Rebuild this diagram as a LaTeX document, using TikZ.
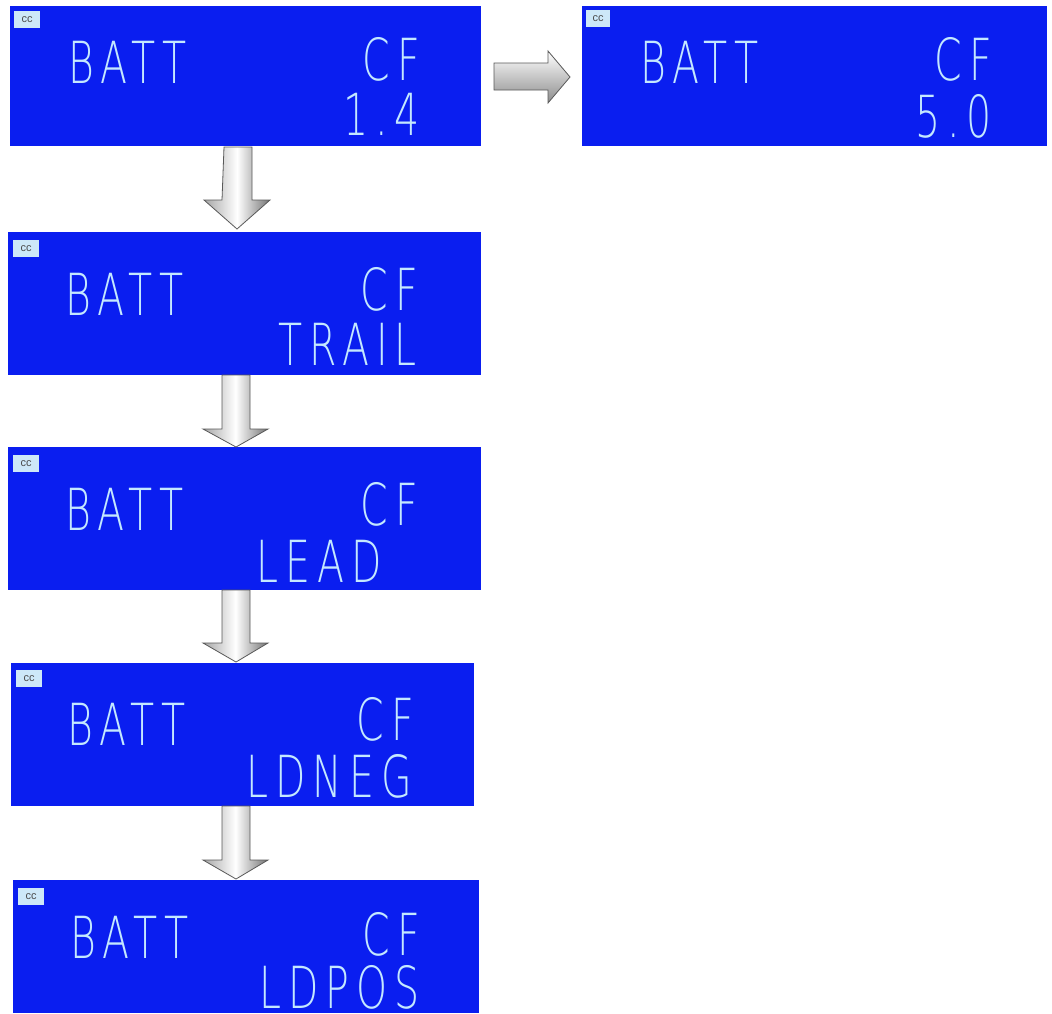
\documentclass[tikz,border=0pt]{standalone}
\usepackage{fontspec}
\newfontfamily\lcd{DejaVu Sans ExtraLight}[FakeStretch=0.68, LetterSpace=12]
\newfontfamily\ccfont{Liberation Sans}
\definecolor{lcdblue}{RGB}{10,30,240}
\definecolor{lcdtext}{RGB}{196,232,255}
\definecolor{ccfill}{RGB}{205,232,248}
\begin{document}
\begin{tikzpicture}[x=1pt,y=-1pt,
  panel/.style={fill=lcdblue, draw=none, anchor=north west, inner sep=0, minimum width=#1},
  panel/.default=471pt,
  ccbox/.style={fill=ccfill, draw=none, anchor=north west, inner sep=0, minimum width=26pt, minimum height=17pt, font=\ccfont\fontsize{11}{11}\selectfont, text=black!70},
  lcdL/.style={anchor=base west, inner sep=0, text height=43pt, text depth=0pt, text=lcdtext, font=\lcd\fontsize{58}{58}\selectfont},
  lcdR/.style={anchor=base east, inner sep=0, text height=43pt, text depth=0pt, text=lcdtext, font=\lcd\fontsize{58}{58}\selectfont},
  barrow/.style={draw=black!65, line width=0.8pt, line join=miter},
  darrow/.style={barrow, left color=black!35, right color=black!55, middle color=white},
  rarrow/.style={barrow, top color=white, bottom color=black!45}]
\useasboundingbox (0,0) rectangle (1052,1013);

% panels
\node[panel, minimum height=140pt] (p1) at (10,6) {};
\node[panel=465pt, minimum height=140pt] (p6) at (582,6) {};
\node[panel=473pt, minimum height=143pt] (p2) at (8,232) {};
\node[panel=473pt, minimum height=143pt] (p3) at (8,447) {};
\node[panel=463pt, minimum height=143pt] (p4) at (11,663) {};
\node[panel=466pt, minimum height=133pt] (p5) at (13,880) {};

% cc boxes
\node[ccbox] (c1) at (14,11) {cc};
\node[ccbox, minimum width=24pt] (c6) at (586,10) {cc};
\node[ccbox] (c2) at (13,240) {cc};
\node[ccbox] (c3) at (13,455) {cc};
\node[ccbox] (c4) at (16,670) {cc};
\node[ccbox] (c5) at (18,888) {cc};

% texts
\node[lcdL] (t1a) at (68,83) {BATT};
\node[lcdR] (t1b) at (420,80) {CF};
\node[lcdR] (t1c) at (420,135) {1.4};

\node[lcdL] (t6a) at (640,83) {BATT};
\node[lcdR] (t6b) at (992,80) {CF};
\node[lcdR] (t6c) at (992,137) {5.0};

\node[lcdL] (t2a) at (65,315) {BATT};
\node[lcdR] (t2b) at (418,310) {CF};
\node[lcdR] (t2c) at (417,365) {TRAIL};

\node[lcdL] (t3a) at (65,530) {BATT};
\node[lcdR] (t3b) at (418,525) {CF};
\node[lcdR] (t3c) at (382,582) {LEAD};

\node[lcdL] (t4a) at (67,745) {BATT};
\node[lcdR] (t4b) at (414,740) {CF};
\node[lcdR] (t4c) at (412,797) {LDNEG};

\node[lcdL] (t5a) at (70,958) {BATT};
\node[lcdR] (t5b) at (420,955) {CF};
\node[lcdR] (t5c) at (420,1008) {LDPOS};

% down arrows: shaft half width 14, head half width 33
\draw[darrow] (224,147) -- (252,147) -- (252,200) -- (270,200) -- (237,229)
  -- (204,200) -- (222,200) -- cycle;
\draw[darrow] (222,375) -- (250,375) -- (250,429) -- (268,429) -- (236,447)
  -- (203,429) -- (222,429) -- cycle;
\draw[darrow] (222,590) -- (250,590) -- (250,643) -- (268,643) -- (236,662)
  -- (203,643) -- (222,643) -- cycle;
\draw[darrow] (222,806) -- (250,806) -- (250,860) -- (268,860) -- (236,879)
  -- (203,860) -- (222,860) -- cycle;

% right arrow
\draw[rarrow] (494,63) -- (548,63) -- (548,51) -- (570,77) -- (548,103)
  -- (548,90) -- (494,90) -- cycle;
\end{tikzpicture}
\end{document}
